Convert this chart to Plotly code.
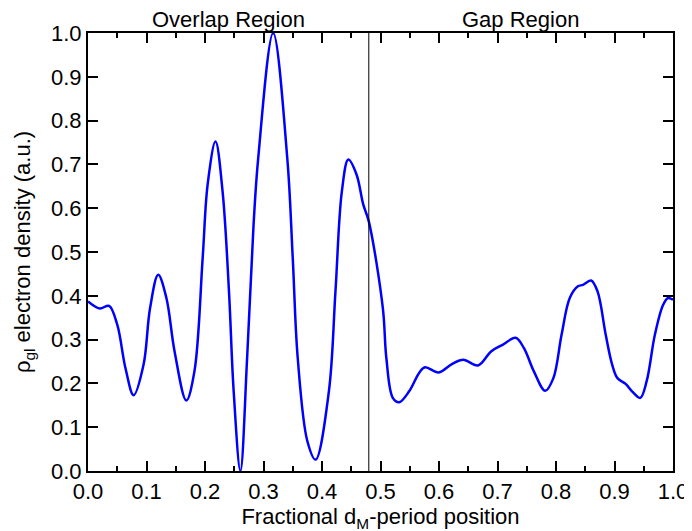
import plotly.graph_objects as go

# electron density profile across one D-period
position = [
    0.000, 0.020, 0.036, 0.050, 0.064, 0.078, 0.095, 0.106, 0.120, 0.134,
    0.148, 0.168, 0.182, 0.196, 0.2045, 0.218, 0.230, 0.241, 0.249, 0.2605,
    0.272, 0.283, 0.291, 0.3165, 0.3406, 0.350, 0.3585, 0.375, 0.389, 0.4118,
    0.423, 0.434, 0.445, 0.459, 0.4706, 0.480, 0.504, 0.510, 0.521, 0.532,
    0.549, 0.566, 0.576, 0.5995, 0.622, 0.6415, 0.6667, 0.689, 0.7087, 0.731,
    0.745, 0.762, 0.7815, 0.7955, 0.8095, 0.8235, 0.8375, 0.8459, 0.860, 0.871,
    0.885, 0.896, 0.905, 0.919, 0.930, 0.944, 0.955, 0.969, 0.983, 0.9916,
    1.000,
]
density = [
    0.387, 0.371, 0.377, 0.334, 0.235, 0.173, 0.243, 0.371, 0.448, 0.395,
    0.273, 0.161, 0.228, 0.486, 0.654, 0.752, 0.639, 0.410, 0.182, 0.000,
    0.258, 0.562, 0.715, 1.000, 0.715, 0.486, 0.258, 0.068, 0.026, 0.182,
    0.410, 0.639, 0.711, 0.677, 0.608, 0.570, 0.372, 0.258, 0.167, 0.157,
    0.182, 0.224, 0.237, 0.225, 0.244, 0.254, 0.241, 0.273, 0.288, 0.304,
    0.281, 0.228, 0.183, 0.212, 0.311, 0.395, 0.4216, 0.425, 0.435, 0.410,
    0.311, 0.243, 0.212, 0.199, 0.182, 0.167, 0.205, 0.311, 0.379, 0.395,
    0.391,
]
boundary = 0.48
regions = ["Overlap Region", "Gap Region"]
region_centers = [0.24, 0.74]

font = "Arial, Liberation Sans, sans-serif"
fsize = 22

fig = go.Figure()
fig.add_trace(go.Scatter(
    x=position,
    y=density,
    mode="lines",
    line=dict(color="#0000ff", width=2.5, shape="spline", smoothing=1.0),
    showlegend=False,
))

# region boundary
fig.add_shape(type="line", x0=boundary, x1=boundary, xref="x",
              y0=0, y1=1, yref="paper",
              line=dict(color="black", width=1))

for label, xc in zip(regions, region_centers):
    fig.add_annotation(x=xc, xref="x", y=1.0, yref="paper",
                       text=label, showarrow=False, yanchor="bottom",
                       borderpad=0, yshift=0,
                       font=dict(size=fsize, color="black", family=font))

axis_common = dict(
    showline=True, linecolor="black", linewidth=2, mirror="ticks",
    ticks="inside", ticklen=10, tickwidth=2, tickcolor="black",
    showgrid=False, zeroline=False,
    tickfont=dict(size=fsize, color="black", family=font),
)

fig.update_xaxes(
    range=[0, 1], dtick=0.1, tickformat=".1f",
    minor=dict(ticks="inside", ticklen=5, tickwidth=2, tickcolor="black", dtick=0.05),
    title=dict(text="Fractional d<sub>M</sub>-period position",
               font=dict(size=fsize, color="black", family=font), standoff=3),
    **axis_common,
)
fig.update_yaxes(
    range=[0, 1], dtick=0.1, tickformat=".1f",
    title=dict(text="ρ<sub>gl</sub> electron density (a.u.)",
               font=dict(size=fsize, color="black", family=font), standoff=14),
    **axis_common,
)

fig.update_layout(
    width=692, height=531,
    margin=dict(l=80, r=16, t=25, b=68),
    plot_bgcolor="white", paper_bgcolor="white",
)

fig.write_html("out.html")
